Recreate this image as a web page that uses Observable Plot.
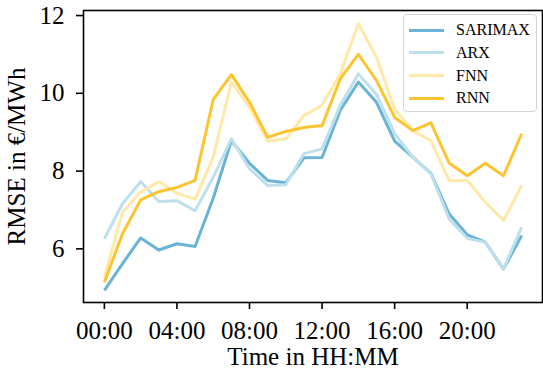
<!DOCTYPE html>
<html><head><meta charset="utf-8">
<script src="https://cdn.jsdelivr.net/npm/d3@7"></script>
<script src="https://cdn.jsdelivr.net/npm/@observablehq/plot@0.6"></script>
<style>
body{margin:0;background:#fff;}
#wrap{position:relative;width:543px;height:369px;}
#wrap svg text{font-family:"Liberation Serif","Times New Roman",Times,serif;}
#legend{position:absolute;left:403px;top:14px;width:134px;height:98px;border:1px solid #d4d4d4;border-radius:4px;background:rgba(255,255,255,0.85);font-family:"Liberation Serif","Times New Roman",Times,serif;font-size:16px;box-sizing:border-box;}
.row{position:absolute;left:5px;height:20px;display:flex;align-items:center;color:#000;}
.sw{width:35px;height:3px;margin-right:12px;}
</style></head>
<body><div id="wrap"></div>
<script>
const hours = [0,1,2,3,4,5,6,7,8,9,10,11,12,13,14,15,16,17,18,19,20,21,22,23];
const models = ["SARIMAX","ARX","FNN","RNN"];
const colors = ["#69b4d6","#bee0ec","#ffe8a8","#fec42f"];
const sarimax = [4.93,5.62,6.28,5.97,6.13,6.06,7.30,8.78,8.20,7.76,7.70,8.34,8.35,9.56,10.29,9.77,8.77,8.36,7.94,6.90,6.36,6.17,5.48,6.34];
const arx     = [6.26,7.16,7.73,7.22,7.24,6.98,7.84,8.83,8.06,7.63,7.65,8.45,8.57,9.69,10.50,9.97,8.96,8.36,7.93,6.77,6.27,6.17,5.48,6.56];
const fnn     = [5.27,6.94,7.46,7.73,7.43,7.28,8.36,10.29,9.64,8.77,8.83,9.43,9.69,10.50,11.79,10.93,9.60,9.04,8.78,7.76,7.76,7.20,6.73,7.63];
const rnn     = [5.14,6.39,7.26,7.47,7.58,7.76,9.84,10.48,9.77,8.87,9.02,9.12,9.17,10.37,11.00,10.33,9.38,9.04,9.24,8.21,7.88,8.20,7.88,8.96];
const tickHours = [0,4,8,12,16,20];
const tickLabels = ["00:00","04:00","08:00","12:00","16:00","20:00"];
const yTicks = [6,8,10,12];

const series = [sarimax, arx, fnn, rnn];
const data = [];
models.forEach((m, k) => hours.forEach((h, i) => data.push({model: m, hour: h, value: series[k][i]})));

const chart = Plot.plot({
  width: 543, height: 369,
  marginLeft: 83, marginRight: 1, marginTop: 10, marginBottom: 67,
  style: {fontFamily: "Liberation Serif, Times New Roman, serif", fontSize: "25px", color: "#000", background: "#fff"},
  x: {domain: [-1.15, 24.15]},
  y: {domain: [4.62, 12.13]},
  color: {domain: models, range: colors},
  marks: [
    Plot.lineY(data, {x: "hour", y: "value", stroke: "model", z: "model", strokeWidth: 3, strokeLinejoin: "round", strokeLinecap: "butt"}),
    Plot.frame({stroke: "#000", strokeWidth: 1.6}),
    Plot.axisX({ticks: tickHours, tickFormat: (d) => tickLabels[tickHours.indexOf(d)], tickSize: 7, tickPadding: 12, strokeWidth: 1.6,
      label: "Time in HH:MM", labelArrow: false, labelAnchor: "center", labelOffset: 62}),
    Plot.axisY({ticks: yTicks, tickSize: 7, tickPadding: 12, strokeWidth: 1.6,
      label: "RMSE in €/MWh", labelArrow: false, labelAnchor: "center", labelOffset: 76})
  ]
});
const wrap = document.getElementById("wrap");
wrap.appendChild(chart);
const legend = document.createElement("div");
legend.id = "legend";
models.forEach((m, i) => {
  const row = document.createElement("div");
  row.className = "row";
  row.style.top = (5 + i * 22.8) + "px";
  const sw = document.createElement("span");
  sw.className = "sw";
  sw.style.background = colors[i];
  const t = document.createElement("span");
  t.textContent = m;
  row.appendChild(sw); row.appendChild(t);
  legend.appendChild(row);
});
wrap.appendChild(legend);
</script>
</body></html>
